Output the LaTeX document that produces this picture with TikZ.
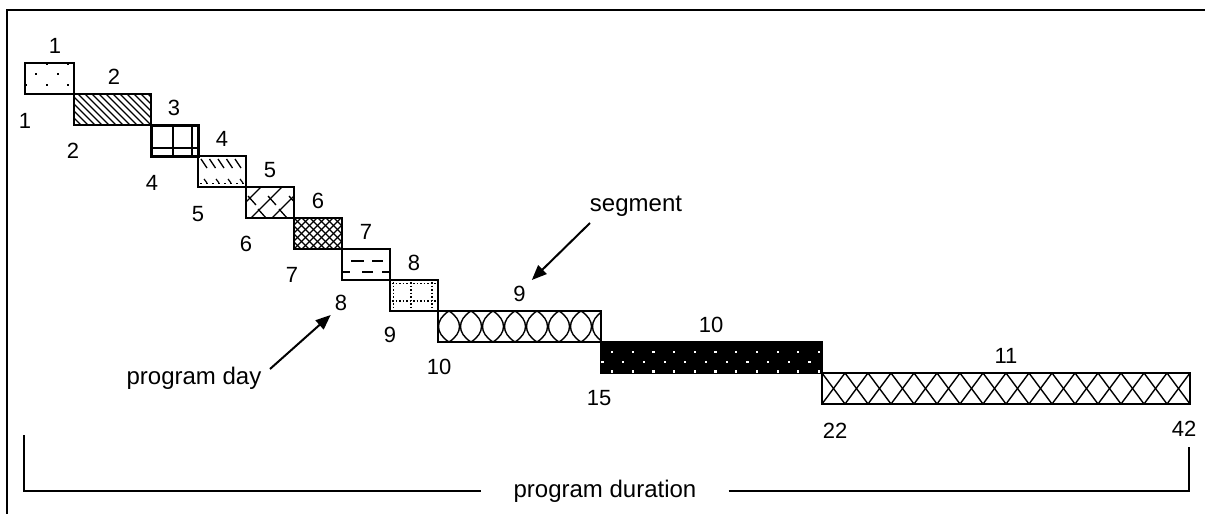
\documentclass[tikz,border=0pt]{standalone}
\usepackage{fontspec}
\setmainfont{Liberation Sans}
\usetikzlibrary{arrows.meta}
\tikzset{
  seg/.style={draw, line width=1.5pt, inner sep=0pt, outer sep=0pt, anchor=north west},
  lbl/.style={inner sep=1pt, font=\fontsize{22}{26}\selectfont},
  txt/.style={inner sep=1pt, font=\fontsize{24}{28}\selectfont},
  arr/.style={line width=2pt, -{Triangle[length=15pt,width=12pt]}},
  hatch/.style={line width=1.2pt},
}
\begin{document}
\begin{tikzpicture}[x=1pt,y=-1pt]
\useasboundingbox (0,0) rectangle (1205,514);
% outer frame (left and top edges)
\draw[line width=2pt] (7,514) -- (7,10) -- (1205,10);

% ---------- segment 1: sparse dots
\node[seg, minimum width=49pt, minimum height=31pt] (b1) at (25,63) {};
\foreach \x/\y in {36/74, 57.5/74, 46.5/85, 68/85, 46.5/64, 68/64, 25.5/85}
  \fill (\x-1,\y-1) rectangle (\x+1,\y+1);

% ---------- segment 2: dense diagonal lines
\begin{scope}
  \clip (74,94) rectangle (151,125);
  \foreach \x in {43,50,...,151} \draw[hatch] (\x,94) -- (\x+31,125);
\end{scope}
\node[seg, minimum width=77pt, minimum height=31pt] (b2) at (74,94) {};

% ---------- segment 3: heavy grid
\begin{scope}
  \draw[line width=2pt] (173,125) -- (173,156);
  \draw[line width=2pt] (192,125) -- (192,156);
  \draw[line width=2pt] (151,148) -- (198,148);
\end{scope}
\node[seg, line width=3pt, minimum width=47pt, minimum height=31pt] (b3) at (151,125) {};

% ---------- segment 4: slanted ticks and dotted base
\begin{scope}
  \clip (198,156) rectangle (246,187);
  \foreach \x in {201,209.5,...,243} \draw[line width=1.3pt] (\x,159) -- (\x+6,168);
  \draw[line width=1.5pt, dash pattern=on 2pt off 4pt] (200,183.5) -- (246,183.5);
  \foreach \x in {204,216,228,240} \draw[line width=1.2pt] (\x,179) -- (\x+3,183);
\end{scope}
\node[seg, minimum width=48pt, minimum height=31pt] (b4) at (198,156) {};

% ---------- segment 5: open diagonal zigzag
\begin{scope}
  \clip (246,187) rectangle (294,218);
  \foreach \x in {230,251,272,293} \draw[line width=1.3pt] (\x,218) -- (\x+31,187);
  \foreach \x/\y in {248/196, 268/196, 289/196, 258/209, 279/209}
    \draw[line width=1.3pt] (\x,\y) -- (\x+8,\y+9);
\end{scope}
\node[seg, minimum width=48pt, minimum height=31pt] (b5) at (246,187) {};

% ---------- segment 6: dense crosshatch
\begin{scope}
  \clip (294,218) rectangle (342,249);
  \foreach \x in {262,270,...,342} {
    \draw[hatch] (\x,218) -- (\x+31,249);
    \draw[hatch] (\x,249) -- (\x+31,218);
  }
\end{scope}
\node[seg, minimum width=48pt, minimum height=31pt] (b6) at (294,218) {};

% ---------- segment 7: two rows of dashes
\draw[line width=1.5pt] (351,261) -- (364,261) (372,261) -- (383,261);
\draw[line width=2.5pt] (342,272) -- (350,272) (362,272) -- (373,272) (382,272) -- (390,272);
\node[seg, minimum width=48pt, minimum height=31pt] (b7) at (342,249) {};

% ---------- segment 8: dotted grid
\begin{scope}[line width=1.5pt, dash pattern=on 1.5pt off 2pt]
  \draw (392,283.5) -- (437,283.5);
  \draw (392,301) -- (437,301);
  \draw (393.5,282) -- (393.5,310);
  \draw (411,282) -- (411,310);
  \draw (432,282) -- (432,310);
\end{scope}
\node[seg, minimum width=48pt, minimum height=31pt] (b8) at (390,280) {};

% ---------- segment 9: braided curves
\begin{scope}
  \clip (438,311) rectangle (601,342);
  \foreach \x in {427,449,...,611} {
    \draw[line width=1.4pt] (\x,311) .. controls (\x+14,320) and (\x+14,333) .. (\x,342);
    \draw[line width=1.4pt] (\x+22,311) .. controls (\x+8,320) and (\x+8,333) .. (\x+22,342);
  }
\end{scope}
\node[seg, minimum width=163pt, minimum height=31pt] (b9) at (438,311) {};

% ---------- segment 10: black with white dots
\node[seg, fill=black, minimum width=221pt, minimum height=31pt] (b10) at (601,342) {};
\foreach \k in {0,...,10} {
  \fill[white] (612+20.7*\k-1.1,352-1.1) rectangle ++(2.2,2.2);
  \fill[white] (602.5+20.7*\k-1.1,362-1.1) rectangle ++(2.2,2.2);
  \fill[white] (612+20.7*\k-1.1,371.5-1.1) rectangle ++(2.2,2.2);
}

% ---------- segment 11: lattice of crosses
\begin{scope}
  \clip (822,373) rectangle (1190,404);
  \foreach \k in {0,...,15} {
    \draw[line width=1.4pt] (822+23*\k,373) -- (845+23*\k,404);
    \draw[line width=1.4pt] (845+23*\k,373) -- (822+23*\k,404);
  }
\end{scope}
\node[seg, line width=2pt, minimum width=368pt, minimum height=31pt] (b11) at (822,373) {};

% ---------- segment numbers above the bars
\node[lbl] (t1) at (55,46) {1};
\node[lbl] (t2) at (114,77) {2};
\node[lbl] (t3) at (174,108) {3};
\node[lbl] (t4) at (222,139) {4};
\node[lbl] (t5) at (270,170) {5};
\node[lbl] (t6) at (318,201) {6};
\node[lbl] (t7) at (366,232) {7};
\node[lbl] (t8) at (414,263) {8};
\node[lbl] (t9) at (519.5,294) {9};
\node[lbl] (t10) at (711,325) {10};
\node[lbl] (t11) at (1006,356) {11};

% ---------- program day numbers below the bar starts
\node[lbl] (d1) at (25,121) {1};
\node[lbl] (d2) at (73,151) {2};
\node[lbl] (d4) at (152,183) {4};
\node[lbl] (d5) at (198,214) {5};
\node[lbl] (d6) at (246,244) {6};
\node[lbl] (d7) at (292,275) {7};
\node[lbl] (d8) at (341,303) {8};
\node[lbl] (d9) at (390,335) {9};
\node[lbl] (d10) at (439,367) {10};
\node[lbl] (d15) at (599,398) {15};
\node[lbl] (d22) at (835,431) {22};
\node[lbl] (d42) at (1184,429) {42};

% ---------- callouts
\node[txt] (segtxt) at (636,206) {segment};
\coordinate (segtail) at (590,223);
\draw[arr] (segtail) -- ([shift={(5,-5)}]t9.north east);

\node[txt] (pdtxt) at (194,378) {program day};
\coordinate (pdtail) at (270,369);
\draw[arr] (pdtail) -- ([shift={(-3,3)}]d8.south west);

% ---------- overall duration bracket
\node[txt, inner xsep=32pt] (dur) at (605,491) {program duration};
\coordinate (bl) at (24,435);
\coordinate (br) at (1189,447);
\draw[line width=2pt] (bl) |- (dur.west);
\draw[line width=2pt] (dur.east) -| (br);
\end{tikzpicture}
\end{document}
